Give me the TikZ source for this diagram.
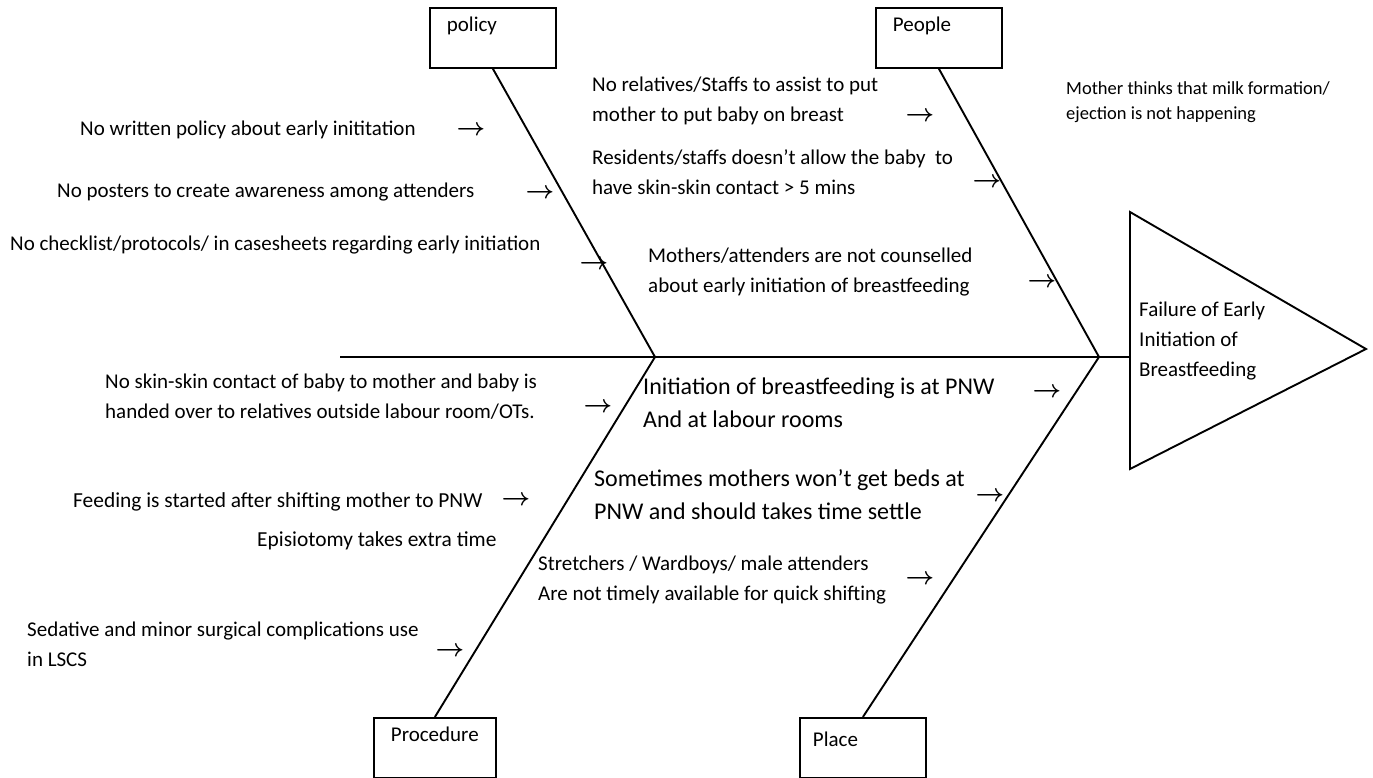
\documentclass[tikz,border=0pt]{standalone}
\usepackage{amsmath}
\usepackage{fontspec}
\setmainfont{Carlito}
\usetikzlibrary{positioning}

\begin{document}
\begin{tikzpicture}[x=1pt, y=-1pt,
    bone/.style={line width=1.9pt},
    catbox/.style={draw, line width=1.8pt, anchor=north west, text width=92pt,
      inner xsep=17pt, inner ysep=10pt, text height=14pt, text depth=26pt,
      align=left, font=\fontsize{21}{25}\selectfont},
    cause/.style={anchor=west, inner sep=0pt, align=left, font=\fontsize{21}{30}\selectfont},
    smallcause/.style={cause, font=\fontsize{18.5}{25}\selectfont},
    bigcause/.style={cause, font=\fontsize{24}{33}\selectfont},
    tick/.style={inner sep=0pt, font=\fontsize{25}{25}\selectfont}]
  \useasboundingbox (0,0) rectangle (1373,778);

  % category boxes
  \node [catbox] (policy) at (429,7) {policy};
  \node [catbox] (people) at (875,7) {People};
  \node [catbox, text width=88pt] (procedure) at (373,717) {Procedure};
  \node [catbox, text height=19pt, text depth=21pt, inner xsep=13pt, text width=100pt] (place) at (799,717) {Place};

  % spine, bones and effect
  \coordinate (tail) at (340,357);
  \coordinate (jpol) at (655,357);
  \coordinate (jpeo) at (1099,357);
  \coordinate (head) at (1130,357);
  \coordinate (tritop) at (1130,212);
  \coordinate (tribot) at (1130,469);
  \coordinate (apex) at (1366,349);
  \draw [bone] (tail) -- (head);
  \draw [bone] (policy.south) -- (jpol) -- (procedure.north);
  \draw [bone] (people.south) -- (jpeo) -- (place.north);
  \draw [bone] (tritop) -- (apex) -- (tribot) -- cycle;
  \node [cause] (effect) at (1139,341) {Failure of Early\\Initiation of\\Breastfeeding};

  % causes
  \node [cause] (c1) at (80,130) {No written policy about early inititation};
  \node [cause] (c2) at (57,192) {No posters to create awareness among attenders};
  \node [cause] (c3) at (10,245) {No checklist/protocols/ in casesheets regarding early initiation};
  \node [cause] (c4) at (592,101) {No relatives/Staffs to assist to put\\mother to put baby on breast};
  \node [cause] (c5) at (592,172) {Residents/staffs doesn’t allow the baby\ \ to\\have skin-skin contact > 5 mins};
  \node [cause] (c6) at (648,272) {Mothers/attenders are not counselled\\about early initiation of breastfeeding};
  \node [smallcause] (c7) at (1066,102) {Mother thinks that milk formation/\\ejection is not happening};
  \node [cause] (c8) at (105,397) {No skin-skin contact of baby to mother and baby is\\handed over to relatives outside labour room/OTs.};
  \node [cause, font=\fontsize{21.4}{30}\selectfont] (c9) at (73,502) {Feeding is started after shifting mother to PNW};
  \node [cause, font=\fontsize{21.4}{30}\selectfont] (c10) at (257,541) {Episiotomy takes extra time};
  \node [cause] (c11) at (27,644) {Sedative and minor surgical complications use\\in LSCS};
  \node [bigcause] (c12) at (643,403) {Initiation of breastfeeding is at PNW\\And at labour rooms};
  \node [bigcause] (c13) at (594,495) {Sometimes mothers won’t get beds at\\PNW and should takes time settle};
  \node [cause] (c14) at (538,580) {Stretchers / Wardboys/ male attenders\\Are not timely available for quick shifting};

  % arrows
  \node [tick] (t1) at (471,131) {$\boldsymbol{\rightarrow}$};
  \node [tick] (t2) at (540,194) {$\boldsymbol{\rightarrow}$};
  \node [tick] (t3) at (594,265) {$\boldsymbol{\rightarrow}$};
  \node [tick] (t4) at (920,117) {$\boldsymbol{\rightarrow}$};
  \node [tick] (t5) at (987,183) {$\boldsymbol{\rightarrow}$};
  \node [tick] (t6) at (1042,283) {$\boldsymbol{\rightarrow}$};
  \node [tick] (t7) at (598,408) {$\boldsymbol{\rightarrow}$};
  \node [tick] (t8) at (516,501) {$\boldsymbol{\rightarrow}$};
  \node [tick] (t9) at (450,652) {$\boldsymbol{\rightarrow}$};
  \node [tick] (t10) at (1047,393) {$\boldsymbol{\rightarrow}$};
  \node [tick] (t11) at (990,497) {$\boldsymbol{\rightarrow}$};
  \node [tick] (t12) at (920,580) {$\boldsymbol{\rightarrow}$};
\end{tikzpicture}
\end{document}
